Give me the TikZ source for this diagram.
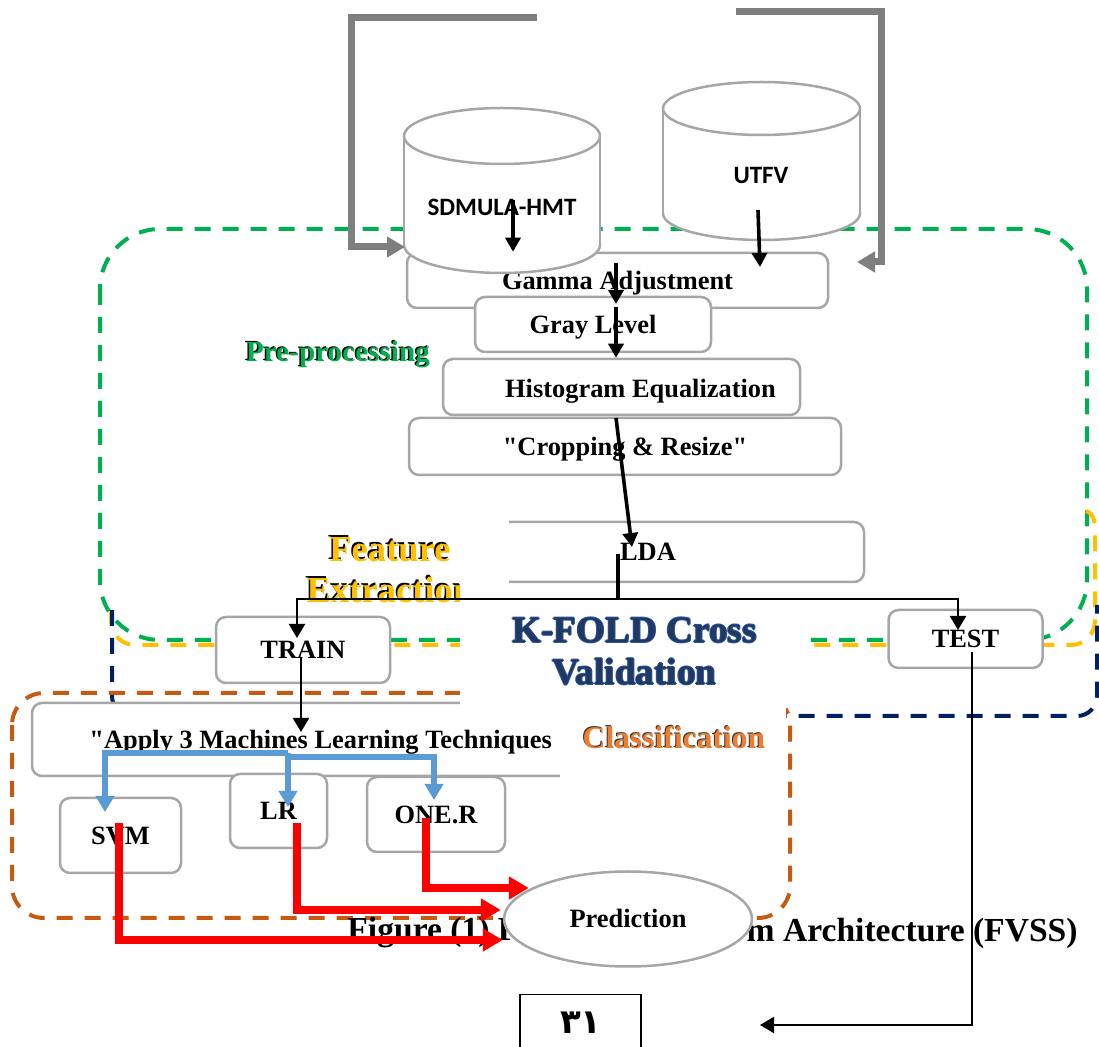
\documentclass[tikz,border=0pt]{standalone}
\usepackage{fontspec}
\setmainfont{Liberation Serif}[Ligatures=TeXOff]
\newfontfamily\dbfont{Carlito}
\newfontfamily\arabicfont[Script=Arabic]{DejaVu Sans}
\usetikzlibrary{arrows.meta,shapes.geometric}

\definecolor{boxgray}{HTML}{A6A6A6}
\definecolor{feedgray}{HTML}{7F7F7F}
\definecolor{pregreen}{HTML}{00B050}
\definecolor{featyellow}{HTML}{FFC000}
\definecolor{kfnavy}{HTML}{002060}
\definecolor{clsorange}{HTML}{C55A11}
\definecolor{clstext}{HTML}{ED7D31}
\definecolor{mlblue}{HTML}{5B9BD5}
\definecolor{predred}{HTML}{FF0000}
\definecolor{kftext}{HTML}{1F3864}
\definecolor{kfedge}{HTML}{2F5597}

\newcommand{\boxfont}{\fontsize{13.2}{15}\selectfont\bfseries}
% database cylinder: centre x, x radius, top centre y, bottom centre y, y radius
\newcommand{\dbcylinder}[5]{%
  \draw[cylline, fill=white] (#1,#4) ellipse[x radius=#2, y radius=#5];
  \fill[white] (#1-#2,#3) rectangle (#1+#2,#4);
  \draw[cylline] (#1-#2,#3) -- (#1-#2,#4) (#1+#2,#3) -- (#1+#2,#4);
  \draw[cylline, fill=white] (#1,#3) ellipse[x radius=#2, y radius=#5];
}

\begin{document}
\begin{tikzpicture}[x=0.5pt, y=-0.5pt,
  stage/.style={draw=boxgray, line width=1.25pt, fill=white, rounded corners=5pt,
                inner sep=0pt, font=\boxfont, text height=9pt, text depth=0pt},
  lbl/.style={inner sep=0pt, font=\boxfont, text height=9pt, text depth=0pt},
  cylline/.style={draw=boxgray, line width=1.25pt},
  region/.style={line width=2pt, dash pattern=on 8pt off 6pt},
  feed/.style={draw=feedgray, line width=3.5pt, -{Triangle[length=9pt,width=10pt]}},
  blk/.style={line width=1.8pt, -{Triangle[length=7pt,width=7.5pt]}},
  thinarr/.style={line width=1pt, -{Triangle[length=7pt,width=8pt]}},
  bluearr/.style={draw=mlblue, line width=2.8pt, -{Triangle[length=8pt,width=9pt]}},
  redarr/.style={draw=predred, line width=3.8pt, -{Triangle[length=10pt,width=11pt]}},
  captionfont/.style={inner sep=0pt, font=\fontsize{16.8}{19}\selectfont\bfseries},
]
\useasboundingbox (0,0) rectangle (1099,1047);
\clip (0,0) rectangle (1099,1047);

% ---------- dashed stage regions ----------
\draw[region, draw=pregreen, rounded corners=30pt] (100,229) rectangle (1087,640);
\draw[region, draw=featyellow] (1086,511) .. controls (1093,513) and (1095,520) .. (1095,530)
  [rounded corners=12pt] -- (1095,645) -- (111,645) -- (111,612);
\draw[region, draw=kfnavy] (112,610) [rounded corners=10pt] -- (112,716) -- (1097,716) -- (1097,605);
\draw[region, draw=clsorange, rounded corners=16pt] (12,693) rectangle (790,918);

% ---------- caption line (its middle lies under the prediction ellipse) ----------
\node[captionfont, anchor=west] (captionL) at (347,933) {Figure (1) F};
\node[captionfont, anchor=east] (captionR) at (1078,933) {m Architecture (FVSS)};

% ---------- processing stages ----------
\node[stage, minimum width=210.5pt, minimum height=27.5pt] (gamma) at (617.5,280.5) {Gamma Adjustment};
\node[stage, minimum width=118pt, minimum height=27.5pt] (gray) at (593,324.5) {Gray Level};
\node[stage, minimum width=178.5pt, minimum height=28pt] (hist) at (621.5,387) {};
\node[lbl] (histT) at (640.5,389) {Histogram Equalization};
\node[stage, minimum width=216pt, minimum height=28.5pt] (crop) at (625,446.5) {"Cropping \& Resize"};
\node[stage, minimum width=197pt, minimum height=30pt] (lda) at (667,552) {};
\node[lbl] (ldaT) at (648,552) {LDA};
\node[stage, minimum width=87pt, minimum height=33pt] (train) at (303,650) {TRAIN};
\node[stage, minimum width=77pt, minimum height=29pt] (test) at (965.5,639) {TEST};
\node[stage, minimum width=304pt, minimum height=36.5pt] (apply) at (336,739.5) {};
\node[lbl, anchor=west] (applyT) at (89,740) {"Apply 3 Machines Learning Techniques};
\node[stage, minimum width=60.5pt, minimum height=37.5pt] (svm) at (120.5,835.5) {SVM};
\node[stage, minimum width=48.5pt, minimum height=37pt] (lr) at (278.5,811) {LR};
\node[stage, minimum width=69pt, minimum height=37.5pt] (oner) at (436,814.5) {ONE.R};

% ---------- data sources ----------
\dbcylinder{502}{98}{136}{245}{28}
\dbcylinder{761.5}{98.5}{108.5}{213.5}{26.5}
\node[inner sep=0pt, font=\dbfont\bfseries\fontsize{12.5}{14}\selectfont] (sdmula) at (502,207) {SDMULA-HMT};
\node[inner sep=0pt, font=\dbfont\bfseries\fontsize{12.5}{14}\selectfont] (utfv) at (761,175) {UTFV};

% feedback lines into the sources
\coordinate (fbL) at (537,18);
\coordinate (sdW) at (405,247);
\coordinate (fbR) at (736,12);
\coordinate (fbRend) at (857,262);
\draw[feed] (fbL) -- (351,18) |- (sdW);
\draw[feed] (fbR) -- (881,12) |- (fbRend);

% ---------- stage titles ----------
\node[inner sep=0pt, font=\fontsize{14.6}{16}\selectfont\bfseries, text=black] (preS) at (336.5,353.5) {Pre-processing};
\node[inner sep=0pt, font=\fontsize{14.6}{16}\selectfont\bfseries, text=pregreen] (pre) at (338,355) {Pre-processing};
\node[inner sep=0pt, align=center, font=\fontsize{18.3}{20.5}\selectfont\bfseries, text=black] (featS) at (388.5,568.5) {Feature\\Extraction};
\node[inner sep=0pt, align=center, font=\fontsize{18.3}{20.5}\selectfont\bfseries, text=featyellow] (feat) at (390,570) {Feature\\Extraction};

% ---------- white panels laid over the regions ----------
\fill[white] (460,515) rectangle (509,584);
\fill[white] (460,584) rectangle (805,708);
\fill[white] (560,700) rectangle (786,780);

\node[inner sep=0pt, align=center, font=\fontsize{18.6}{21}\selectfont\bfseries, text=kfedge] (kfa) at (633.5,651) {K-FOLD Cross\\Validation};
\node[inner sep=0pt, align=center, font=\fontsize{18.6}{21}\selectfont\bfseries, text=kfedge] (kfb) at (635.5,651) {K-FOLD Cross\\Validation};
\node[inner sep=0pt, align=center, font=\fontsize{18.6}{21}\selectfont\bfseries, text=kfedge] (kfc) at (634.5,650) {K-FOLD Cross\\Validation};
\node[inner sep=0pt, align=center, font=\fontsize{18.6}{21}\selectfont\bfseries, text=kfedge] (kfd) at (634.5,652) {K-FOLD Cross\\Validation};
\node[inner sep=0pt, align=center, font=\fontsize{18.6}{21}\selectfont\bfseries, text=kftext] (kfold) at (634.5,651) {K-FOLD Cross\\Validation};

\node[inner sep=0pt, font=\fontsize{15.8}{18}\selectfont\bfseries, text=black!80] (clsS) at (673,737) {Classification};
\node[inner sep=0pt, font=\fontsize{15.8}{18}\selectfont\bfseries, text=clstext] (cls) at (674,738) {Classification};

% ---------- prediction ----------
\node[ellipse, draw=boxgray, line width=1.25pt, fill=white, minimum width=124pt, minimum height=47.5pt,
      inner sep=0pt, font=\boxfont, text height=9pt, text depth=0pt] (pred) at (628,919) {Prediction};

% ---------- page number box ----------
\node[draw, line width=0.6pt, minimum width=60.5pt, minimum height=40pt, anchor=north, inner sep=0pt] (page) at (580.5,994) {};
\node[inner sep=0pt, font=\arabicfont\bfseries\fontsize{17}{19}\selectfont] (pageT) at (581,1023) {٣١};

% ---------- flow arrows ----------
\coordinate (sdA) at (513,200);
\draw[blk] (sdA) -- (sdA |- gamma.north);
\coordinate (uA) at (758,210);
\coordinate (uB) at (760,267);
\draw[blk] (uA) -- (uB);
\coordinate (gA) at (616,263);
\coordinate (gB) at (616,304);
\draw[blk] (gA) -- (gB);
\coordinate (grA) at (616,307);
\draw[blk] (grA) -- (grA |- hist.north);
\coordinate (hA) at (616,418);
\coordinate (hB) at (632,547);
\draw[blk] (hA) -- (hB);
\coordinate (ldaA) at (618,554);
\coordinate (split) at (618,599);
\draw[line width=1.8pt] (ldaA) -- (split);
\coordinate (trainTip) at (297,638);
\coordinate (testTip) at (958,630);
\draw[thinarr] (split) -| (trainTip);
\draw[thinarr] (split) -| (testTip);
\coordinate (trA) at (301,658);
\coordinate (trB) at (301,732);
\draw[thinarr] (trA) -- (trB);
\coordinate (teA) at (972,652);
\coordinate (teB) at (760,1025);
\draw[thinarr] (teA) |- (teB);

% learners
\coordinate (bl) at (288,753);
\coordinate (svmTip) at (105,812);
\coordinate (lrTip) at (288,807);
\coordinate (bl2) at (288,757);
\coordinate (onerTip) at (434,800);
\draw[bluearr] (bl) -| (svmTip);
\draw[bluearr] (bl) -- (lrTip);
\draw[bluearr] (bl2) -| (onerTip);

% votes into prediction
\coordinate (svmR) at (119,823);
\coordinate (lrR) at (297,823);
\coordinate (onerR) at (426,818);
\draw[redarr] (svmR) |- ([xshift=0pt,yshift=-10.5pt]pred.west);
\draw[redarr] (lrR) |- ([xshift=-1pt,yshift=4.5pt]pred.west);
\draw[redarr] (onerR) |- ([xshift=13pt,yshift=15.5pt]pred.west);
\end{tikzpicture}
\end{document}
